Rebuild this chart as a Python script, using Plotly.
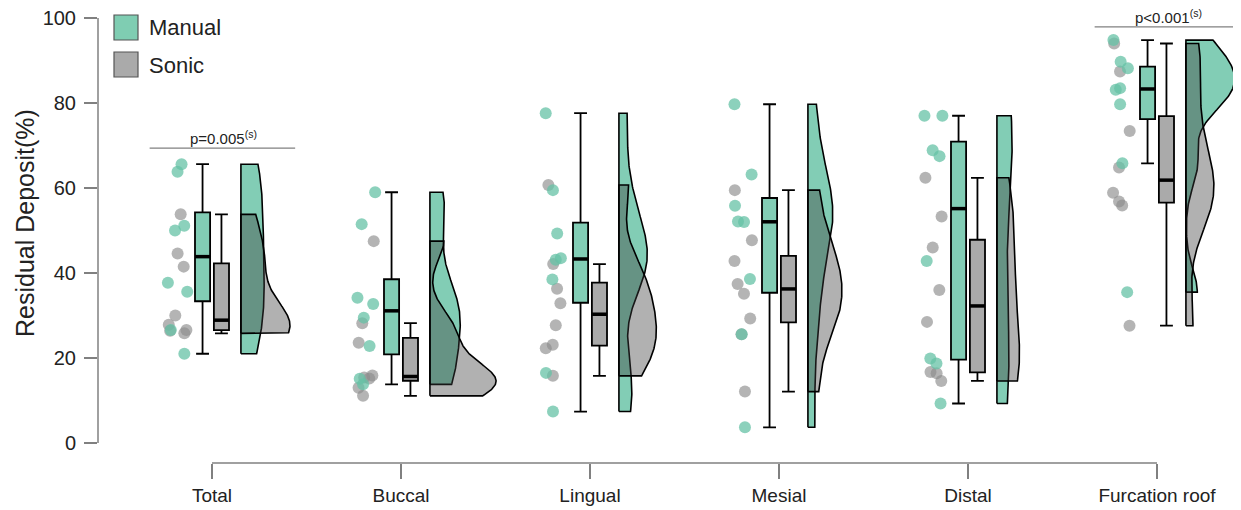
import numpy as np
import plotly.graph_objects as go

# ---------------- data ----------------
categories = ["Total", "Buccal", "Lingual", "Mesial", "Distal", "Furcation roof"]

manual_total = [65.6, 63.8, 51.1, 50.0, 37.7, 35.6, 26.6, 21.0]
manual_buccal = [59.0, 51.5, 34.2, 32.7, 29.5, 22.8, 15.1, 13.8]
manual_lingual = [77.6, 59.5, 49.3, 43.5, 43.1, 38.5, 16.5, 7.4]
manual_mesial = [79.7, 63.2, 55.8, 52.1, 52.0, 38.6, 25.6, 3.7]
manual_distal = [77.0, 77.0, 68.9, 67.5, 42.8, 19.9, 18.7, 9.3]
manual_furcation = [94.8, 89.7, 88.2, 83.5, 83.1, 79.7, 65.8, 35.5]

sonic_total = [53.8, 44.6, 41.5, 30.0, 27.8, 26.6, 26.4, 25.8]
sonic_buccal = [47.5, 28.2, 23.6, 15.9, 15.4, 15.2, 13.0, 11.1]
sonic_lingual = [60.7, 42.1, 36.3, 32.9, 27.7, 23.1, 22.3, 15.8]
sonic_mesial = [59.5, 47.7, 42.8, 37.4, 35.1, 29.3, 25.6, 12.1]
sonic_distal = [62.4, 53.3, 46.0, 36.0, 28.5, 16.7, 16.4, 14.6]
sonic_furcation = [94.0, 87.4, 73.4, 64.8, 58.9, 56.8, 55.9, 27.6]

manual = [manual_total, manual_buccal, manual_lingual, manual_mesial, manual_distal, manual_furcation]
sonic = [sonic_total, sonic_buccal, sonic_lingual, sonic_mesial, sonic_distal, sonic_furcation]

sig_categories = ["Total", "Furcation roof"]
sig_labels = ["p=0.005<sup>(s)</sup>", "p<0.001<sup>(s)</sup>"]
sig_heights = [69.4, 97.9]

y_ticks = [0, 20, 40, 60, 80, 100]

# ---------------- style ----------------
FONT = "Liberation Sans, Arial, sans-serif"
GREEN_PT = "rgba(102,194,165,0.75)"
GREY_PT = "rgba(140,140,140,0.65)"
GREEN_FILL = "rgba(102,194,165,0.82)"
GREY_BOX = "rgb(170,170,170)"
GREY_VIO = "rgba(60,60,60,0.40)"
AXIS_GREY = "rgb(128,128,128)"

BOX_OFF = 0.05
BOX_W = 0.08
PTS_OFF = -0.18
PTS_W = 0.13
VIO_OFF = 0.153
VIO_MAXW = 0.35   # widest half-violin, in category units

pos = np.arange(1, len(categories) + 1)


def nrd0(v):
    v = np.asarray(v, dtype=float)
    sd = v.std(ddof=1)
    q1, q3 = np.percentile(v, [25, 75])
    return 0.9 * min(sd, (q3 - q1) / 1.34) * len(v) ** -0.2


def kde(v, n=200):
    v = np.asarray(v, dtype=float)
    bw = nrd0(v)
    g = np.linspace(v.min(), v.max(), n)
    d = np.exp(-0.5 * ((g[:, None] - v[None, :]) / bw) ** 2).sum(axis=1) / (len(v) * bw * np.sqrt(2 * np.pi))
    return g, d


def box_stats(v):
    v = np.sort(np.asarray(v, dtype=float))
    q1, med, q3 = np.percentile(v, [25, 50, 75])
    iqr = q3 - q1
    lo = v[v >= q1 - 1.5 * iqr].min()
    hi = v[v <= q3 + 1.5 * iqr].max()
    return q1, med, q3, lo, hi


fig = go.Figure()

# ---- half violins (area-scaled, trimmed to the data range) ----
dens = {(gi, ci): kde(vals) for gi, group in enumerate((manual, sonic)) for ci, vals in enumerate(group)}
dmax = max(d.max() for _, d in dens.values())
scale = VIO_MAXW / dmax
for gi, fill in ((0, GREEN_FILL), (1, GREY_VIO)):
    for ci, p in enumerate(pos):
        g, d = dens[(gi, ci)]
        base = p + VIO_OFF
        xs = np.concatenate([[base], base + d * scale, [base, base]])
        ys = np.concatenate([[g[0]], g, [g[-1], g[0]]])
        fig.add_trace(go.Scatter(x=xs, y=ys, mode="lines", fill="toself", fillcolor=fill,
                                 line=dict(color="black", width=1.6), showlegend=False,
                                 hoverinfo="skip"))

# ---- boxes (quartiles as in R's quantile type 7) ----
for group, off, fill in ((manual, -BOX_OFF, GREEN_FILL), (sonic, BOX_OFF, GREY_BOX)):
    st = [box_stats(v) for v in group]
    fig.add_trace(go.Box(x=[p + off for p in pos],
                         q1=[s[0] for s in st], median=[s[1] for s in st], q3=[s[2] for s in st],
                         lowerfence=[s[3] for s in st], upperfence=[s[4] for s in st],
                         width=BOX_W, boxpoints=False, fillcolor=fill,
                         line=dict(color="black", width=1.8), whiskerwidth=0.85,
                         showlegend=False, hoverinfo="skip"))

# ---- medians (thick) ----
for group, off in ((manual, -BOX_OFF), (sonic, BOX_OFF)):
    xs, ys = [], []
    for p, vals in zip(pos, group):
        m = float(np.median(vals))
        xs += [p + off - BOX_W / 2, p + off + BOX_W / 2, None]
        ys += [m, m, None]
    fig.add_trace(go.Scatter(x=xs, y=ys, mode="lines", line=dict(color="black", width=3.5),
                             showlegend=False, hoverinfo="skip"))

# ---- jittered raw points ----
for group, col in ((sonic, GREY_PT), (manual, GREEN_PT)):
    xs, ys = [], []
    for p, vals in zip(pos, group):
        xs += [p + PTS_OFF] * len(vals)
        ys += vals
    fig.add_trace(go.Box(x=xs, y=ys, width=PTS_W, boxpoints="all", jitter=1.0, pointpos=0,
                         fillcolor="rgba(0,0,0,0)", line=dict(color="rgba(0,0,0,0)", width=0),
                         marker=dict(color=col, size=12, line=dict(width=0)),
                         showlegend=False, hoverinfo="skip"))

shapes = []
annotations = []

# axis lines (range-limited, as in the original)
shapes.append(dict(type="line", xref="x", yref="paper", x0=pos[0], x1=pos[-1], y0=0, y1=0,
                   line=dict(color=AXIS_GREY, width=1.5)))
shapes.append(dict(type="line", xref="paper", yref="y", x0=0, x1=0, y0=y_ticks[0], y1=y_ticks[-1],
                   line=dict(color=AXIS_GREY, width=1.5)))

# significance bars
for cat, lab, h in zip(sig_categories, sig_labels, sig_heights):
    p = pos[categories.index(cat)]
    shapes.append(dict(type="line", xref="x", yref="y", x0=p - 0.33, x1=p + 0.44, y0=h, y1=h,
                       line=dict(color=AXIS_GREY, width=1.3)))
    annotations.append(dict(x=p + 0.06, y=h, xref="x", yref="y", text=lab, showarrow=False,
                            yanchor="bottom", yshift=-1, font=dict(size=15, color="#222", family=FONT)))

# figure is shown with the page's 8px body margin: size/margins compensate for it
W, H = 1233, 502
L, R, T, B = 90, 4, 0, 47
PW, PH = W - L - R, H - T - B


def px(x):   # screen x -> paper
    return (x - 8 - L) / PW


def py(y):   # screen y -> paper
    return (H - B - (y - 8)) / PH


# legend (drawn)
for (top, bot, fill, name, ty) in ((15, 40, "rgb(127,205,178)", "Manual", 28),
                                   (52, 77, "rgb(170,170,170)", "Sonic", 65)):
    shapes.append(dict(type="rect", xref="paper", yref="paper", x0=px(114), x1=px(138),
                       y0=py(bot), y1=py(top), fillcolor=fill, line=dict(color="#555", width=1.2)))
    annotations.append(dict(x=px(147), y=py(ty), xref="paper", yref="paper", text=name, showarrow=False,
                            xanchor="left", yanchor="middle", font=dict(size=22, color="#222", family=FONT)))

# y-axis title
annotations.append(dict(x=px(25), y=py(223), xref="paper", yref="paper", text="Residual Deposit(%)",
                        textangle=-90, showarrow=False, xanchor="center", yanchor="middle",
                        font=dict(size=25, color="#222", family=FONT)))

fig.update_layout(
    template="none",
    width=W, height=H,
    margin=dict(l=L, r=R, t=T, b=B, pad=0),
    paper_bgcolor="white", plot_bgcolor="white",
    boxmode="overlay",
    showlegend=False,
    font=dict(family=FONT, color="#222"),
    shapes=shapes, annotations=annotations,
    xaxis=dict(range=[1 - 114 / 189, 6 + 80 / 189], tickvals=list(pos), ticktext=categories,
               ticks="outside", ticklen=15, tickwidth=1.5, tickcolor=AXIS_GREY,
               showline=False, showgrid=False, zeroline=False, automargin=False,
               ticklabeloverflow="allow",
               tickfont=dict(size=19, color="#222", family=FONT), ticklabelstandoff=0),
    yaxis=dict(range=[-20 / 4.25, 435 / 4.25], tickvals=y_ticks,
               ticks="outside", ticklen=13, tickwidth=1.5, tickcolor=AXIS_GREY,
               showline=False, showgrid=False, zeroline=False, automargin=False,
               ticklabeloverflow="allow",
               tickfont=dict(size=20, color="#222", family=FONT), ticklabelstandoff=4),
)

fig.write_html("out.html")
